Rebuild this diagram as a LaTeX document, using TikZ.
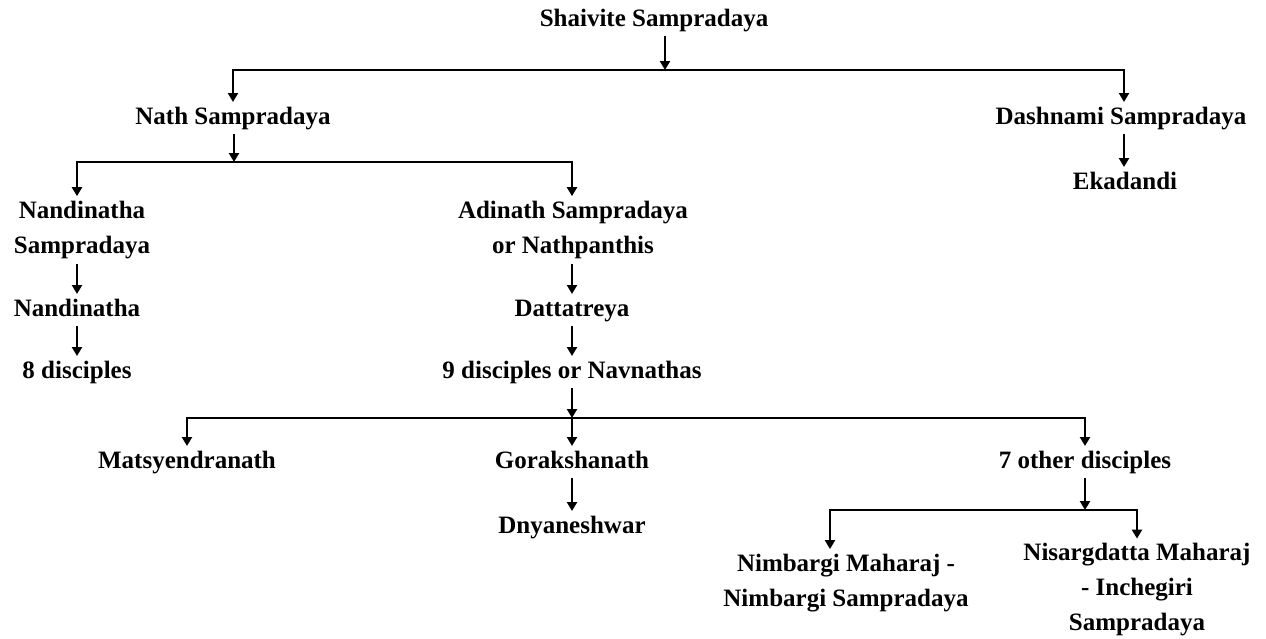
\documentclass[tikz,border=0pt]{standalone}
\usepackage{fontspec}
\setmainfont{Liberation Serif}
\usetikzlibrary{arrows.meta}
\begin{document}
\begin{tikzpicture}[x=1pt,y=-1pt,
  lbl/.style={font=\bfseries\fontsize{25}{35}\selectfont, inner sep=0pt, outer sep=5pt,
              text height=17pt, text depth=5pt},
  mlbl/.style={font=\bfseries\fontsize{25}{35}\selectfont, align=center, inner sep=0pt, outer sep=5pt},
  arr/.style={line width=2.4pt, -{Triangle[width=10pt,length=9pt]}}]
\useasboundingbox (0,0) rectangle (1266,638);

% tree nodes
\node[lbl] (shaivite) at (654,20) {Shaivite Sampradaya};
\node[lbl] (nath) at (233,118) {Nath Sampradaya};
\node[lbl] (dash) at (1121,118) {Dashnami Sampradaya};
\node[lbl] (eka) at (1125,183) {Ekadandi};
\node[mlbl] (nandS) at (82,230) {Nandinatha\\Sampradaya};
\node[mlbl] (adi) at (573,230) {Adinath Sampradaya\\or Nathpanthis};
\node[lbl] (nand) at (77,310) {Nandinatha};
\node[lbl] (eight) at (77,372) {8 disciples};
\node[lbl] (datta) at (572,310) {Dattatreya};
\node[lbl] (nine) at (572,372) {9 disciples or Navnathas};
\node[lbl] (mats) at (187,462) {Matsyendranath};
\node[lbl] (gora) at (572,462) {Gorakshanath};
\node[lbl] (seven) at (1085,462) {7 other disciples};
\node[lbl] (dnya) at (572,527) {Dnyaneshwar};
\node[mlbl] (nimb) at (846,583) {Nimbargi Maharaj -\\Nimbargi Sampradaya};
\node[mlbl] (nisa) at (1137,590) {Nisargdatta Maharaj\\- Inchegiri\\Sampradaya};

% branch bars
\coordinate (b1) at (665,70);
\coordinate (b2) at (234,162);
\coordinate (b3) at (572,418);
\coordinate (b4) at (1085,510);

% first level
\draw[arr] (shaivite.south -| b1) -- (b1);
\draw[arr] (b1) -| (nath.north);
\draw[arr] (b1) -| (dash.north -| 1124,0);
\draw[arr] (dash.south -| 1124,0) -- (eka.north -| 1124,0);

% Nath branch
\draw[arr] (nath.south -| b2) -- (b2);
\draw[arr] (b2) -| (nandS.north -| 77,0);
\draw[arr] (b2) -| (adi.north -| 572,0);
\draw[arr] (nandS.south -| 77,0) -- (nand);
\draw[arr] (nand) -- (eight);
\draw[arr] (adi.south -| 572,0) -- (datta);
\draw[arr] (datta) -- (nine);

% Navnath branch
\draw[arr] (nine) -- (b3);
\draw[arr] (b3) -| (mats.north);
\draw[arr] (b3) -- (gora);
\draw[arr] (b3) -| (seven.north);
\draw[arr] (gora) -- (dnya);

% seven other disciples
\draw[arr] (seven) -- (b4);
\draw[arr] (b4) -| (nimb.north -| 830,0);
\draw[arr] (b4) -| (nisa.north);
\end{tikzpicture}
\end{document}
